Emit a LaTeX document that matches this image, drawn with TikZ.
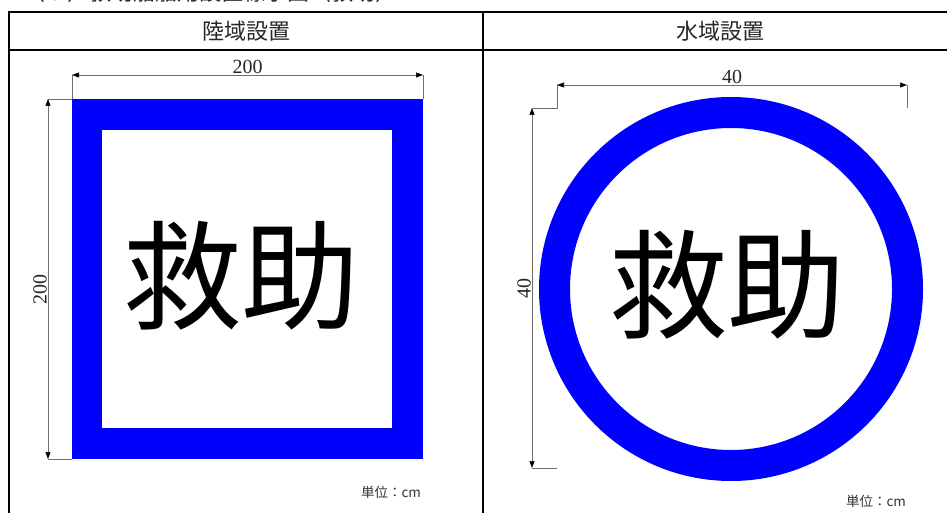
\documentclass[tikz,border=0pt]{standalone}
\usepackage{fontspec}
\setmainfont{Liberation Serif}
\newfontfamily\jp{Noto Sans CJK JP}
\usetikzlibrary{arrows.meta}
\definecolor{signblue}{RGB}{0,0,255}
\definecolor{dimgray}{RGB}{110,110,110}
\tikzset{
  gridline/.style={line width=1.4pt, black},
  dimline/.style={draw=dimgray, line width=0.6pt},
  dimarrows/.style={dimline, {Triangle[length=7pt,width=5pt,fill=black,color=black]}-{Triangle[length=7pt,width=5pt,fill=black,color=black]}},
  header/.style={font=\jp\fontsize{22}{24}\selectfont, text=black!85},
  bigtext/.style={font=\jp\fontsize{118}{120}\selectfont},
  dimlabel/.style={font=\fontsize{20}{21}\selectfont, text=black!85, inner sep=1pt},
  unit/.style={font=\jp\fontsize{13.5}{14}\selectfont, text=black!80}
}
\begin{document}
\begin{tikzpicture}[x=1pt,y=-1pt]
\useasboundingbox (0,0) rectangle (947,513);
% title line, cut off at the top edge as in the reference
\node[header, anchor=west] (title) at (20,-8) {（５）救助船舶用設置標示図（救助）};
% table
\draw[gridline] (9,513) -- (9,12) -- (947,12);
\draw[gridline] (9,50) -- (947,50);
\draw[gridline] (483,12) -- (483,513);
\node[header] (hl) at (246,31) {陸域設置};
\node[header] (hr) at (720,31) {水域設置};
% left sign
\fill[signblue] (72,99) rectangle (423,459);
\fill[white] (102,130) rectangle (392,428);
\node[bigtext] (tl) at (241,276) {救助};
% left dimensions
\coordinate (ta) at (72,75); \coordinate (tb) at (423,75);
\coordinate (sa) at (72,99); \coordinate (sb) at (423,99);
\draw[dimline] (sa) -- (ta); \draw[dimline] (sb) -- (tb);
\draw[dimarrows] (ta) -- node[dimlabel, above=0pt] (l200h) {200} (tb);
\coordinate (la) at (48,99); \coordinate (lb) at (48,459);
\coordinate (sc) at (72,459);
\draw[dimline] (sa) -- (la); \draw[dimline] (sc) -- (lb);
\draw[dimarrows] (la) -- node[dimlabel, rotate=90, above=0pt, pos=0.53] (l200v) {200} (lb);
\node[unit] (u1) at (391,492) {単位：cm};
% right sign
\fill[signblue, even odd rule] (731,289) circle (192) (731,289) circle (161);
\node[bigtext] (tr) at (727,285) {救助};
% right dimensions
\coordinate (ra) at (557,85); \coordinate (rb) at (907,85);
\coordinate (re1) at (557,108); \coordinate (re2) at (907,108);
\coordinate (rc) at (532,108); \coordinate (rd) at (532,468);
\coordinate (re3) at (557,468);
\draw[dimline] (rc) -- (re1) -- (ra);
\draw[dimline] (re2) -- (rb);
\draw[dimarrows] (ra) -- node[dimlabel, above=0pt] (r40h) {40} (rb);
\draw[dimarrows] (rc) -- node[dimlabel, rotate=90, above=0pt, pos=0.5] (r40v) {40} (rd);
\draw[dimline] (rd) -- (re3);
\node[unit] (u2) at (876,501) {単位：cm};
\end{tikzpicture}
\end{document}
